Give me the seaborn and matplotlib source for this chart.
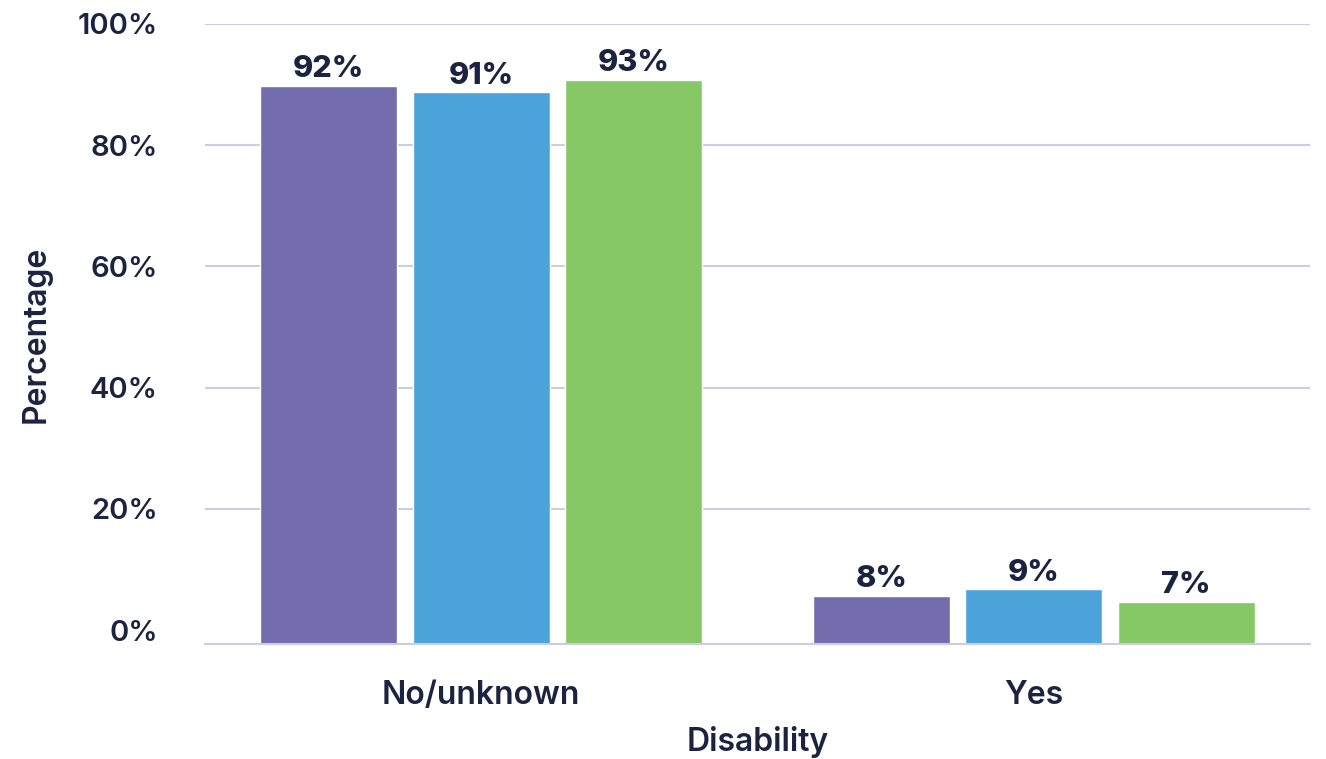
import matplotlib
matplotlib.use("Agg")
import matplotlib.pyplot as plt
import seaborn as sns
import pandas as pd

# ---- data ----
categories = ["No/unknown", "Yes"]
series_names = ["Series 1", "Series 2", "Series 3"]
series1_values = [92, 8]
series2_values = [91, 9]
series3_values = [93, 7]
ytick_labels = ["0%", "20%", "40%", "60%", "80%", "100%"]
ytick_values = [0, 20, 40, 60, 80, 100]

# ---- style ----
colors = ["#736DAD", "#4CA3DA", "#86C865"]
text_color = "#1B2340"
line_color = "#CFCAE6"
font = "Inter"
zero_offset = 2.27  # baseline of bars sits slightly below the 0% tick in the reference

rows = []
for name, vals in zip(series_names, [series1_values, series2_values, series3_values]):
    for cat, v in zip(categories, vals):
        rows.append({"Disability": cat, "Series": name, "Value": v})
df = pd.DataFrame(rows)

sns.set_theme(style="white")
plt.rcParams["font.family"] = [font, "DejaVu Sans"]

fig = plt.figure(figsize=(13.26, 7.59), dpi=100)
ax = fig.add_axes([205 / 1326, 1 - 644 / 759, (1310 - 205) / 1326, (644 - 24) / 759])

sns.barplot(data=df, x="Disability", y="Value", hue="Series", order=categories,
            hue_order=series_names, palette=colors, width=0.828, gap=0.1,
            saturation=1, legend=False, ax=ax, errorbar=None)

ax.set_xlim(-0.5, len(categories) - 0.5)
ax.set_ylim(0, 100 + zero_offset)

tick_pos = [v + zero_offset for v in ytick_values]
ax.set_yticks(tick_pos)
ax.set_yticklabels(ytick_labels)
for p in tick_pos[1:]:
    ax.axhline(p, color=line_color, lw=1.5, zorder=0)

for s in ["left", "top", "right"]:
    ax.spines[s].set_visible(False)
ax.spines["bottom"].set_color(line_color)
ax.spines["bottom"].set_linewidth(1.5)

ax.tick_params(axis="y", length=0, pad=34, labelsize=21, labelcolor=text_color)
ax.tick_params(axis="x", which="major", length=0, pad=26, labelsize=23, labelcolor=text_color)
ax.set_xticks([i - 0.5 for i in range(len(categories) + 1)], minor=True)
ax.tick_params(axis="x", which="minor", length=14, width=1.5, color=line_color, direction="out")
for lab in ax.get_yticklabels() + ax.get_xticklabels():
    lab.set_fontweight("semibold")

label_lists = [series1_values, series2_values, series3_values]
for cont, vals in zip(ax.containers, label_lists):
    ax.bar_label(cont, labels=[f"{v}%" for v in vals], padding=2, fontsize=22,
                 fontweight="heavy", color=text_color)

ax.set_xlabel("Disability", fontsize=23, fontweight="semibold", color=text_color, labelpad=11)
ax.set_ylabel("Percentage", fontsize=23, fontweight="semibold", color=text_color)
ax.yaxis.set_label_coords(-153 / 1105, 0.5)

fig.savefig("out.png", dpi=100)
